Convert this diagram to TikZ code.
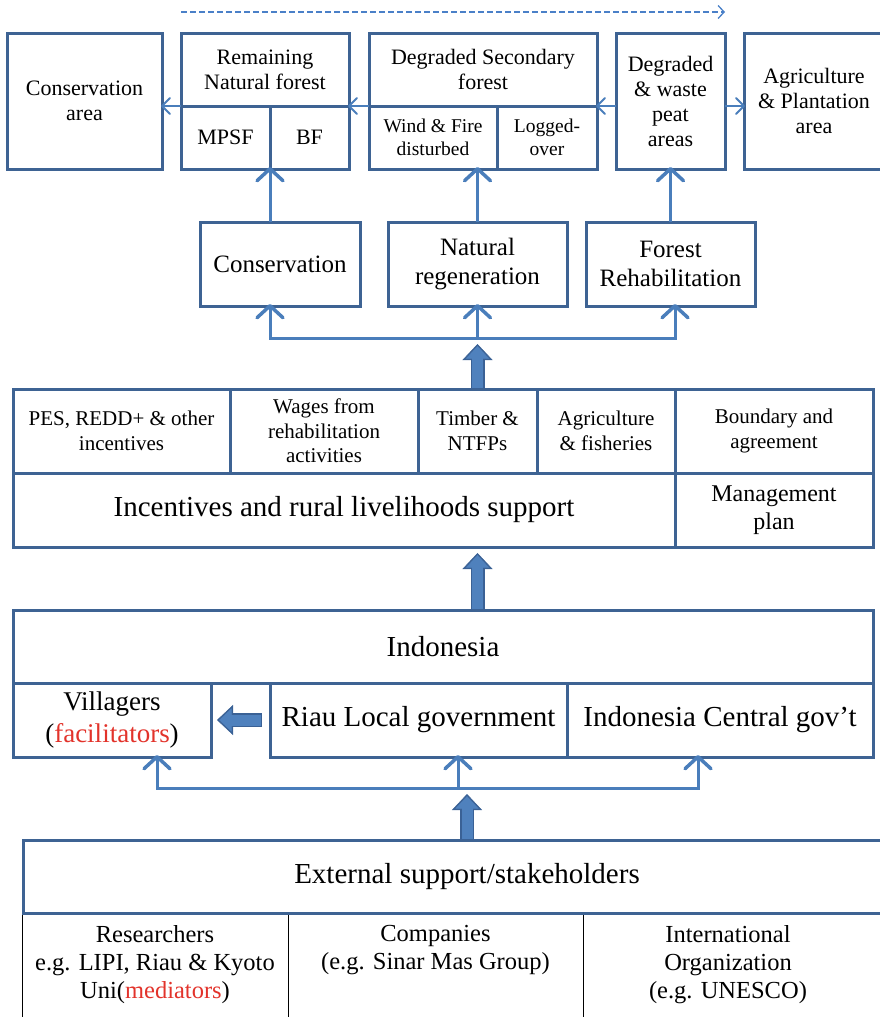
\documentclass[tikz,border=0pt]{standalone}
\usepackage{fontspec}
\setmainfont{Liberation Serif}
\usetikzlibrary{arrows.meta, positioning}

\definecolor{boxline}{HTML}{3E6393}
\definecolor{arrowblue}{HTML}{4A7EBB}
\definecolor{dashblue}{HTML}{4A80C8}
\definecolor{blkfill}{HTML}{4F81BD}
\definecolor{blkline}{HTML}{3A6195}
\definecolor{txtred}{HTML}{E2332B}

\begin{document}
\begin{tikzpicture}[
    x=1pt, y=-1pt,
    cellbox/.style={rectangle, draw=boxline, line width=3pt, outer sep=0pt, inner sep=1pt, align=center, text=black},
    bigtxt/.style={font=\fontsize{29}{33}\selectfont},
    villtxt/.style={font=\fontsize{27}{32}\selectfont},
    midtxt/.style={font=\fontsize{25}{29}\selectfont},
    mgmttxt/.style={font=\fontsize{24}{28}\selectfont},
    toptxt/.style={font=\fontsize{22}{25}\selectfont},
    celltxt/.style={font=\fontsize{21}{24.5}\selectfont},
    smalltxt/.style={font=\fontsize{19.5}{22.5}\selectfont},
    bottxt/.style={anchor=north, inner sep=0pt, align=center, font=\fontsize{24.5}{28}\selectfont},
    sepline/.style={draw=black, line width=1pt},
    conn/.style={draw=arrowblue, line width=3pt, line cap=rect},
    uparrow/.style={draw=arrowblue, line width=3pt, shorten >=-2pt, -{Straight Barb[length=12pt,width=26pt,line width=3.5pt,round]}},
    thinarrow/.style={draw=arrowblue, line width=2pt, shorten >=-1pt, -{Straight Barb[length=8pt,width=16pt,line width=2pt,round]}},
    dasharrow/.style={draw=dashblue, line width=1.3pt, dash pattern=on 6pt off 3pt, -{Straight Barb[length=6pt,width=13pt,line width=1.3pt]}},
    fatout/.style={line width=14pt, draw=blkline, shorten <=#1, shorten >=6pt, -{Triangle[width=30pt,length=16pt,line width=0.5pt]}},
    fatout/.default=0pt,
    fatin/.style={line width=11pt, draw=blkfill, shorten <=#1, shorten >=8.2pt, -{Triangle[width=23pt,length=12.3pt,line width=0.5pt]}},
    fatin/.default=1.5pt
    ]
    \useasboundingbox (0,0) rectangle (880,1017);
    \clip (0,0) rectangle (880,1017);

    % Land use classes
    \node (consarea) [cellbox, toptxt, minimum width=155pt, minimum height=136pt] at (84.5,101) {Conservation\\area};
    \node (remnat) [cellbox, toptxt, minimum width=168pt, minimum height=73pt] at (265,69.5) {Remaining\\Natural forest};
    \node (mpsf) [cellbox, toptxt, minimum width=89pt, minimum height=63pt, below right=0pt of remnat.south west] {MPSF};
    \node (bf) [cellbox, toptxt, minimum width=79pt, minimum height=63pt, right=0pt of mpsf] {BF};
    \node (degsec) [cellbox, toptxt, minimum width=228pt, minimum height=73pt] at (483,69.5) {Degraded Secondary\\forest};
    \node (windfire) [cellbox, smalltxt, minimum width=128pt, minimum height=63pt, below right=0pt of degsec.south west] {Wind \& Fire\\disturbed};
    \node (logged) [cellbox, smalltxt, minimum width=100pt, minimum height=63pt, right=0pt of windfire] {Logged-\\over};
    \node (peat) [cellbox, toptxt, minimum width=109pt, minimum height=136pt] at (670.5,101) {Degraded\\\& waste\\peat\\areas};
    \node (agri) [cellbox, toptxt, minimum width=140pt, minimum height=136pt] at (814,101) {Agriculture\\\& Plantation\\area};

    % Management options
    \node (cons) [cellbox, midtxt, minimum width=160pt, minimum height=84pt] at (280,264) {Conservation};
    \node (natreg) [cellbox, midtxt, minimum width=179pt, minimum height=84pt] at (477.5,264) {Natural\\regeneration};
    \node (forreh) [cellbox, midtxt, minimum width=169pt, minimum height=84pt] at (670.5,264) {Forest\\Rehabilitation};

    % Incentives block
    \node (pes) [cellbox, celltxt, minimum width=217pt, minimum height=84pt] at (121.5,431) {PES, REDD+ \& other\\incentives};
    \node (wages) [cellbox, celltxt, minimum width=188pt, minimum height=84pt, right=0pt of pes] {Wages from\\rehabilitation\\activities};
    \node (timber) [cellbox, celltxt, minimum width=119pt, minimum height=84pt, right=0pt of wages] {Timber \&\\NTFPs};
    \node (agrifish) [cellbox, celltxt, minimum width=138pt, minimum height=84pt, right=0pt of timber] {Agriculture\\\& fisheries};
    \node (boundary) [cellbox, celltxt, minimum width=198pt, minimum height=84pt, right=0pt of agrifish] {Boundary and\\agreement};
    \node (income) [cellbox, bigtxt, minimum width=662pt, minimum height=74pt, below right=0pt of pes.south west] {Incentives and rural livelihoods support};
    \node (mgmt) [cellbox, mgmttxt, minimum width=198pt, minimum height=74pt, right=0pt of income] {Management\\plan};

    % Government block
    \node (indo) [cellbox, bigtxt, minimum width=860pt, minimum height=73pt] at (443,646.5) {Indonesia};
    \node (vill) [cellbox, villtxt, minimum width=198pt, minimum height=74pt, below right=0pt of indo.south west] {Villagers\\(\textcolor{txtred}{facilitators})};
    \node (central) [cellbox, bigtxt, minimum width=306pt, minimum height=74pt, below left=0pt of indo.south east] {Indonesia Central gov’t};
    \node (riau) [cellbox, bigtxt, minimum width=297pt, minimum height=74pt, left=0pt of central] {Riau Local government};

    % External support
    \foreach \x in {22,288,583}
        \draw [sepline] (\x,914) -- (\x,1030);
    \node (res) [bottxt] at (155,925) {Researchers\\e.g. LIPI, Riau \& Kyoto\\Uni(\textcolor{txtred}{mediators})};
    \node (comp) [bottxt] at (435.5,925) {Companies\\(e.g. Sinar Mas Group)};
    \node (intl) [bottxt] at (728,925) {International\\Organization\\(e.g. UNESCO)};
    \node (ext) [cellbox, bigtxt, minimum width=888pt, minimum height=73pt] at (467,876.5) {External support/stakeholders};

    % Arrows - land use
    \coordinate (dashL) at (181,12);
    \coordinate (dashR) at (725,12);
    \draw [dasharrow] (dashL) -- (dashR);
    \draw [thinarrow] (remnat.south west) -- (remnat.south west -| consarea.east);
    \draw [thinarrow] (degsec.south west) -- (remnat.south east);
    \draw [thinarrow] (peat.west |- degsec.south) -- (degsec.south east);
    \draw [thinarrow] (peat.east |- degsec.south) -- (agri.west |- degsec.south);

    % Arrows - options
    \draw [uparrow] (mpsf.south east |- cons.north) -- (mpsf.south east);
    \draw [uparrow] (natreg.north) -- (natreg.north |- windfire.south);
    \draw [uparrow] (forreh.north) -- (peat.south);
    \coordinate (forkAL) at (270,338);
    \coordinate (forkAR) at (675,338);
    \draw [conn] (forkAL) -- (forkAR);
    \draw [uparrow] (forkAL) -- (forkAL |- cons.south);
    \draw [uparrow] (natreg.south |- forkAL) -- (natreg.south);
    \draw [uparrow] (forkAR) -- (forkAR |- forreh.south);
    \draw [fatout] (natreg.south |- pes.north) -- (natreg.south |- forkAL);
    \draw [fatin] (natreg.south |- pes.north) -- (natreg.south |- forkAL);

    % Arrows - government
    \draw [fatout] (natreg.south |- indo.north) -- (natreg.south |- income.south);
    \draw [fatin] (natreg.south |- indo.north) -- (natreg.south |- income.south);
    \draw [fatout=8pt] (riau.west) -- (vill.east);
    \draw [fatin=9.5pt] (riau.west) -- (vill.east);
    \coordinate (forkBL) at (157,788);
    \coordinate (forkBM) at (458,788);
    \coordinate (forkBR) at (698,788);
    \draw [conn] (forkBL) -- (forkBR);
    \draw [uparrow] (forkBL) -- (forkBL |- vill.south);
    \draw [uparrow] (forkBM) -- (forkBM |- riau.south);
    \draw [uparrow] (forkBR) -- (forkBR |- central.south);
    \draw [fatout] (ext.north) -- (ext.north |- forkBL);
    \draw [fatin] (ext.north) -- (ext.north |- forkBL);

\end{tikzpicture}
\end{document}
